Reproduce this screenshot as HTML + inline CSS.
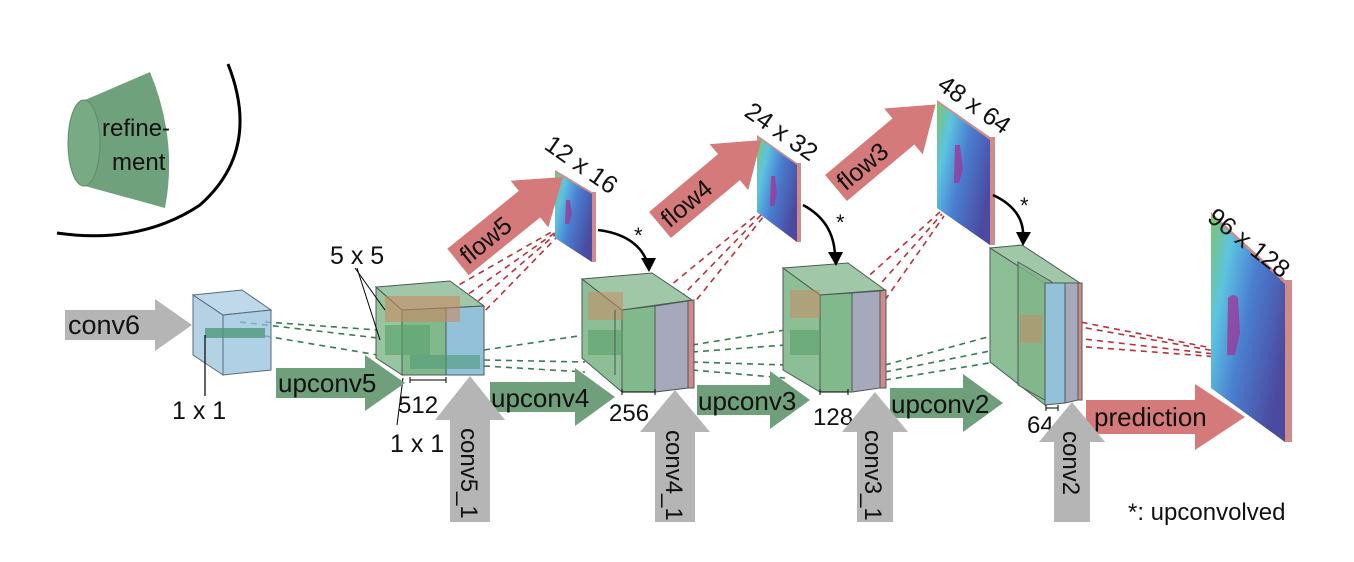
<!DOCTYPE html>
<html><head><meta charset="utf-8"><style>
html,body{margin:0;padding:0;background:#fff;}
svg{display:block;}
text{font-family:"Liberation Sans",Arial,sans-serif;fill:#111;}
</style></head><body>
<svg width="1354" height="562" viewBox="0 0 1354 562" xmlns="http://www.w3.org/2000/svg">
<defs>
<linearGradient id="fg" x1="0" y1="0" x2="1" y2="0.6">
<stop offset="0" stop-color="#7fc66a"/><stop offset="0.25" stop-color="#5cc4e0"/><stop offset="0.55" stop-color="#4a7fd0"/><stop offset="1" stop-color="#4a4aa0"/>
</linearGradient>
</defs>

<path d="M85,100 L150,72 Q178,140 165,208 L85,186 Z" fill="#6fa27c"/>
<ellipse cx="84" cy="143" rx="16" ry="43" fill="#78ab84" stroke="#5d8c69" stroke-width="1"/>
<text x="102" y="136" font-size="24">refine-</text>
<text x="112" y="170" font-size="24">ment</text>
<path d="M228,64 Q262,150 200,205 Q140,245 57,233" fill="none" stroke="#000" stroke-width="3"/>

<g stroke="#3c7a52" stroke-width="1.6" stroke-dasharray="6,5" fill="none">
<line x1="265" y1="322" x2="378" y2="330"/><line x1="265" y1="336" x2="378" y2="355"/>
<line x1="240" y1="322" x2="378" y2="338"/>
<line x1="484" y1="350" x2="585" y2="335"/><line x1="484" y1="360" x2="585" y2="362"/><line x1="484" y1="366" x2="585" y2="372"/>
<line x1="692" y1="352" x2="785" y2="345"/><line x1="692" y1="362" x2="785" y2="365"/><line x1="692" y1="370" x2="785" y2="378"/><line x1="692" y1="345" x2="785" y2="330"/>
<line x1="885" y1="365" x2="995" y2="335"/><line x1="885" y1="372" x2="995" y2="350"/><line x1="885" y1="380" x2="995" y2="362"/>
</g>
<g stroke="#b8323a" stroke-width="1.6" stroke-dasharray="6,5" fill="none">
<line x1="460" y1="300" x2="556" y2="232"/><line x1="470" y1="308" x2="556" y2="234"/><line x1="478" y1="318" x2="558" y2="236"/><line x1="450" y1="290" x2="555" y2="230"/>
<line x1="665" y1="290" x2="760" y2="212"/><line x1="680" y1="298" x2="762" y2="214"/><line x1="690" y1="308" x2="764" y2="216"/>
<line x1="862" y1="282" x2="940" y2="212"/><line x1="875" y1="290" x2="942" y2="214"/><line x1="885" y1="300" x2="944" y2="216"/>
<line x1="1060" y1="318" x2="1232" y2="352"/><line x1="1075" y1="326" x2="1232" y2="354"/><line x1="1075" y1="338" x2="1232" y2="356"/><line x1="1075" y1="346" x2="1232" y2="358"/>
</g>

<g stroke="#5a6a78" stroke-width="1" fill-opacity="0.75">
<polygon points="193,295 223,315 223,375 193,355" fill="#9cc3dc"/>
<polygon points="193,295 242,290 271,310 223,315" fill="#a8cde3"/>
<polygon points="223,315 271,310 271,370 223,375" fill="#94c0dc"/>
</g>
<rect x="205" y="328" width="60" height="10" fill="#4e9a7a" opacity="0.8"/>
<line x1="205" y1="335" x2="205" y2="396" stroke="#000" stroke-width="1.2"/>
<text x="172" y="419" font-size="25">1 x 1</text>

<g stroke="#4d5a55" stroke-width="1">
<polygon points="376,287 402,310 402,375 376,358" fill="#8cbf95" fill-opacity="0.9"/>
<polygon points="376,287 450,281 484,306 402,310" fill="#9fc7a8"/>
<polygon points="402,310 446,308 446,375 402,375" fill="#82b98c"/>
<polygon points="446,308 484,306 484,375 446,375" fill="#93c1da"/>
</g>
<rect x="385" y="296" width="75" height="26" fill="#c98a62" opacity="0.6"/>
<rect x="385" y="325" width="45" height="30" fill="#5aa06a" opacity="0.6"/>
<rect x="410" y="355" width="70" height="14" fill="#4f9a78" opacity="0.6"/>
<line x1="355" y1="268" x2="385" y2="310" stroke="#000"/><line x1="357" y1="268" x2="380" y2="340" stroke="#000"/>
<line x1="403" y1="378" x2="397" y2="425" stroke="#000"/>
<text x="330" y="264" font-size="25">5 x 5</text>
<path d="M410,383 v-6 M410,380 H446 M446,383 v-6" stroke="#000" fill="none"/>
<text x="398" y="413" font-size="24">512</text>
<text x="390" y="452" font-size="25">1 x 1</text>

<g stroke="#4d5a55" stroke-width="1">
<polygon points="582,279 622,310 622,392 582,358" fill="#8cbf95"/>
<polygon points="582,279 652,273 692,300 622,310" fill="#9fc7a8"/>
<polygon points="622,310 655,306 655,392 622,392" fill="#82b98c"/>
<polygon points="655,306 688,301 688,388 655,392" fill="#a6a9bc"/>
<polygon points="688,301 694,300 694,388 688,388" fill="#d08a8a"/>
</g>
<rect x="588" y="292" width="35" height="28" fill="#c98a62" opacity="0.55"/>
<rect x="588" y="330" width="35" height="25" fill="#5aa06a" opacity="0.6"/>
<line x1="615" y1="310" x2="615" y2="375" stroke="#4d5a55"/>
<path d="M622,395 v-6 M622,392 H655 M655,395 v-6" stroke="#000" fill="none"/>
<text x="609" y="421" font-size="24">256</text>

<g stroke="#4d5a55" stroke-width="1">
<polygon points="783,268 820,295 820,392 783,370" fill="#8cbf95"/>
<polygon points="783,268 848,263 885,290 820,295" fill="#9fc7a8"/>
<polygon points="820,295 852,293 852,392 820,392" fill="#82b98c"/>
<polygon points="852,293 880,291 880,388 852,392" fill="#a6a9bc"/>
<polygon points="880,291 886,290 886,388 880,388" fill="#d08a8a"/>
</g>
<rect x="790" y="290" width="30" height="28" fill="#c98a62" opacity="0.55"/>
<rect x="790" y="330" width="30" height="25" fill="#5aa06a" opacity="0.6"/>
<path d="M820,395 v-6 M820,392 H848 M848,395 v-6" stroke="#000" fill="none"/>
<text x="813" y="425" font-size="24">128</text>

<g stroke="#4d5a55" stroke-width="1">
<polygon points="990,248 1045,283 1045,405 990,362" fill="#8cbf95"/>
<polygon points="990,248 1022,245 1080,283 1045,283" fill="#9fc7a8"/>
<polygon points="1018,262 1052,282 1052,404 1018,385" fill="#7fb58a" fill-opacity="0.8"/>
<polygon points="1045,283 1065,283 1065,403 1045,405" fill="#93c1da"/>
<polygon points="1065,283 1078,283 1078,400 1065,403" fill="#a6a9bc"/>
<polygon points="1078,283 1082,283 1082,400 1078,400" fill="#d08a8a"/>
</g>
<rect x="1020" y="315" width="22" height="28" fill="#c98a62" opacity="0.55"/>
<path d="M1046,411 v-6 M1046,408 H1058 M1058,411 v-6" stroke="#000" fill="none"/>
<text x="1027" y="433" font-size="24">64</text>

<polygon points="555,170 592,192 596,192 596,262 592,262 555,238" fill="#d08a8a"/>
<polygon points="555,172 592,194 592,262 555,238" fill="url(#fg)"/>
<path d="M566,200 l4,0 l2,14 l-3,10 l-4,0 z" fill="#9a3a9a" opacity="0.8"/>

<polygon points="757,135 797,163 801,163 801,242 797,242 757,212" fill="#d08a8a"/>
<polygon points="757,137 797,165 797,242 757,212" fill="url(#fg)"/>
<path d="M771,176 l4,0 l2,18 l-3,12 l-4,0 z" fill="#9a3a9a" opacity="0.8"/>

<polygon points="937,100 990,137 995,137 995,245 990,245 937,208" fill="#d08a8a"/>
<polygon points="937,102 990,140 990,245 937,208" fill="url(#fg)"/>
<path d="M955,145 l5,0 l3,24 l-4,14 l-5,0 z" fill="#9a3a9a" opacity="0.8"/>

<polygon points="1211,212 1285,280 1292,280 1292,442 1285,442 1211,388" fill="#d08a8a"/>
<polygon points="1211,215 1285,284 1285,442 1211,388" fill="url(#fg)"/>
<path d="M1228,298 q6,-6 10,0 l2,35 l-5,22 l-8,0 z" fill="#9a3a9a" opacity="0.8"/>

<text font-size="25" transform="translate(543,148) rotate(35)">12 x 16</text>
<text font-size="25" transform="translate(743,115) rotate(35)">24 x 32</text>
<text font-size="25" transform="translate(936,88) rotate(35)">48 x 64</text>
<text font-size="25" transform="translate(1206,220) rotate(38)">96 x 128</text>

<g fill="none" stroke="#000" stroke-width="2.5">
<path d="M598,230 Q638,235 648,264"/>
<path d="M803,205 Q835,222 835,258"/>
<path d="M993,195 Q1025,210 1023,238"/>
</g>
<polygon points="641,258 656,258 649,272" fill="#000"/>
<polygon points="828,252 843,252 836,266" fill="#000"/>
<polygon points="1016,232 1031,232 1023,246" fill="#000"/>
<text x="634" y="243" font-size="22">*</text>
<text x="836" y="230" font-size="22">*</text>
<text x="1020" y="213" font-size="22">*</text>

<polygon points="65,310 155,310 155,299 192,325 155,351 155,340 65,340" fill="#b5b5b5"/>
<text x="68" y="334" font-size="27">conv6</text>
<polygon points="276,368 365,368 365,355 405,383 365,411 365,398 276,398" fill="#6f9f7b"/>
<text x="278" y="392" font-size="26">upconv5</text>
<polygon points="490,382 575,382 575,368 615,397 575,426 575,412 490,412" fill="#6f9f7b"/>
<text x="491" y="407" font-size="26">upconv4</text>
<polygon points="697,385 770,385 770,371 810,400 770,429 770,415 697,415" fill="#6f9f7b"/>
<text x="698" y="410" font-size="26">upconv3</text>
<polygon points="890,388 963,388 963,374 1003,403 963,432 963,418 890,418" fill="#6f9f7b"/>
<text x="891" y="413" font-size="26">upconv2</text>
<polygon points="1086,400 1195,400 1195,384 1245,417 1195,450 1195,434 1086,434" fill="#d47a7a"/>
<text x="1094" y="426" font-size="26">prediction</text>

<polygon points="470,376 505,420 490,420 490,522 450,522 450,420 435,420" fill="#b5b5b5"/>
<text font-size="24" transform="translate(461,428) rotate(90)">conv5_1</text>
<polygon points="675,390 710,432 695,432 695,522 655,522 655,432 640,432" fill="#b5b5b5"/>
<text font-size="24" transform="translate(666,430) rotate(90)">conv4_1</text>
<polygon points="875,392 908,432 893,432 893,522 857,522 857,432 842,432" fill="#b5b5b5"/>
<text font-size="24" transform="translate(865,430) rotate(90)">conv3_1</text>
<polygon points="1072,402 1105,442 1090,442 1090,522 1054,522 1054,442 1039,442" fill="#b5b5b5"/>
<text font-size="24" transform="translate(1063,431) rotate(90)">conv2</text>

<g transform="translate(458,262) rotate(-39)">
<polygon points="0,-17 92,-17 92,-30 135,0 92,30 92,17 0,17" fill="#d47a7a"/>
<text x="6" y="9" font-size="25">flow5</text>
</g>
<g transform="translate(660,225) rotate(-40)">
<polygon points="0,-17 90,-17 90,-30 132,0 90,30 90,17 0,17" fill="#d47a7a"/>
<text x="5" y="9" font-size="25">flow4</text>
</g>
<g transform="translate(836,188) rotate(-40)">
<polygon points="0,-17 88,-17 88,-30 130,0 88,30 88,17 0,17" fill="#d47a7a"/>
<text x="5" y="9" font-size="25">flow3</text>
</g>

<text x="1128" y="520" font-size="24">*: upconvolved</text>
</svg>
</body></html>
